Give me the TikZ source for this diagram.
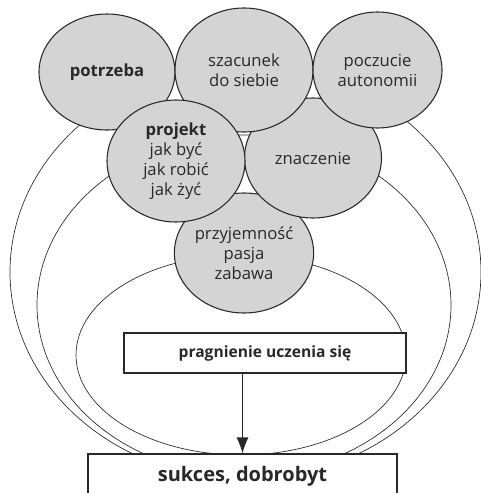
\documentclass[tikz,border=0pt]{standalone}
\usepackage{fontspec}
\setmainfont{Open Sans}
\usetikzlibrary{shapes.geometric, arrows.meta}

\definecolor{bubblegray}{RGB}{212,212,212}
\definecolor{inkgray}{RGB}{40,40,40}

\begin{document}
\begin{tikzpicture}[
    x=0.75pt, y=-0.75pt,
    bubble/.style={ellipse, draw=inkgray, line width=0.8pt, fill=bubblegray, inner sep=0pt,
        align=center, text=inkgray, font=\fontsize{12.5}{15}\selectfont},
    panel/.style={draw=inkgray, line width=0.8pt, fill=white, inner sep=0pt, text=inkgray},
    ring/.style={draw=inkgray, line width=0.5pt}
]
\clip (0,0) rectangle (481,493);

% Rings behind the bubbles
\begin{scope}
\clip (0,100) rectangle (481,454);
\draw[ring] (245.5,272) ellipse [x radius=235.5, y radius=207];
\draw[ring] (244,305) ellipse [x radius=207, y radius=170];
\draw[ring] (241,355) ellipse [x radius=165, y radius=100];
\end{scope}

% Bubbles
\node[bubble, minimum width=103.5pt, minimum height=90pt] (przyjemnosc) at (244,253) {przyjemność\\pasja\\zabawa};
\node[bubble, minimum width=102.75pt, minimum height=90pt] (znaczenie) at (313,158) {znaczenie};
\node[bubble, minimum width=102pt, minimum height=87pt] (potrzeba) at (107,72) {\bfseries potrzeba};
\node[bubble, minimum width=103.5pt, minimum height=93pt] (szacunek) at (244,70) {szacunek\\do siebie};
\node[bubble, minimum width=96.75pt, minimum height=87pt] (autonomia) at (377.5,70) {poczucie\\autonomii};
\node[bubble, minimum width=103.5pt, minimum height=91.5pt] (projekt) at (176,161) {\bfseries projekt\\jak być\\jak robić\\jak żyć};

% Boxes
\node[panel, minimum width=211.5pt, minimum height=30pt,
    font=\bfseries\fontsize{11.7}{14}\selectfont] (pragnienie) at (265,353) {pragnienie uczenia się};
\node[panel, minimum width=231.75pt, minimum height=33pt,
    font=\bfseries\fontsize{15}{18}\selectfont] (sukces) at (242.5,476) {sukces, dobrobyt};

\draw[-{Latex[length=12pt, width=9pt]}, draw=inkgray, fill=inkgray, line width=0.8pt]
    (pragnienie.south -| sukces.north) -- (sukces.north);

\end{tikzpicture}
\end{document}
